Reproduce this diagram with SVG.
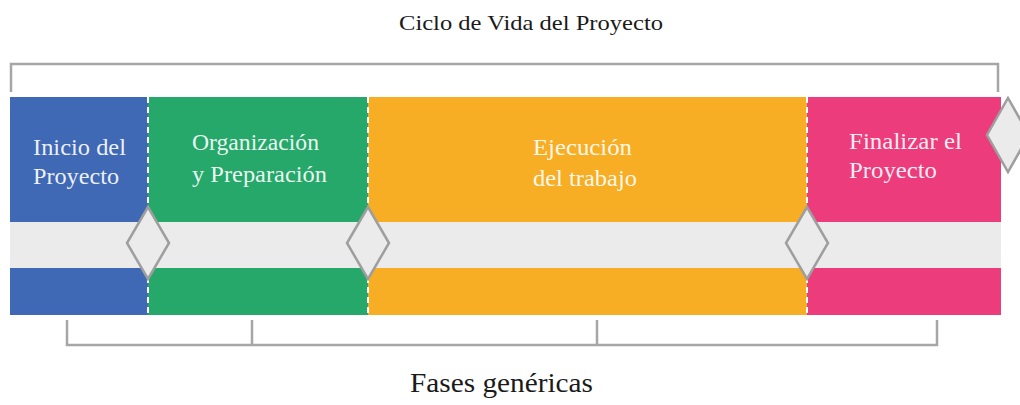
<svg xmlns="http://www.w3.org/2000/svg" width="1020" height="405" viewBox="0 0 1020 405">
<style>
.t{font-family:'Liberation Serif','Times New Roman','DejaVu Serif',serif;fill:#1a1a1a}
.w{font-family:'Liberation Serif','Times New Roman','DejaVu Serif',serif;fill:#fff;fill-opacity:0.92;font-size:23px}
.br{fill:none;stroke:#a6a6a6;stroke-width:2.5}
.dash{stroke:#fff;stroke-width:2;stroke-dasharray:6,4}
.dia{fill:#ebebeb;stroke:#9e9e9e;stroke-width:2.5}
</style>
<rect width="1020" height="405" fill="#fff"/>
<text class="t" x="399" y="30" font-size="22" textLength="264" lengthAdjust="spacingAndGlyphs">Ciclo de Vida del Proyecto</text>
<path class="br" d="M11,92 V64 H998 V92"/>
<g id="inicio">
<rect x="10" y="97" width="138" height="218" fill="#3F68B5"/>
<text class="w" x="33" y="155" textLength="93" lengthAdjust="spacingAndGlyphs">Inicio del</text>
<text class="w" x="33" y="184" textLength="86" lengthAdjust="spacingAndGlyphs">Proyecto</text>
</g>
<g id="organizacion">
<rect x="148" y="97" width="220" height="218" fill="#25A86A"/>
<text class="w" x="192" y="150" textLength="127" lengthAdjust="spacingAndGlyphs">Organización</text>
<text class="w" x="192" y="182" textLength="135" lengthAdjust="spacingAndGlyphs">y Preparación</text>
</g>
<g id="ejecucion">
<rect x="368" y="97" width="439" height="218" fill="#F7AE24"/>
<text class="w" x="533" y="155" textLength="99" lengthAdjust="spacingAndGlyphs">Ejecución</text>
<text class="w" x="533" y="186" textLength="104" lengthAdjust="spacingAndGlyphs">del trabajo</text>
</g>
<g id="finalizar">
<rect x="807" y="97" width="194" height="218" fill="#EC3C7C"/>
<text class="w" x="849" y="149" textLength="113" lengthAdjust="spacingAndGlyphs">Finalizar el</text>
<text class="w" x="849" y="178" textLength="88" lengthAdjust="spacingAndGlyphs">Proyecto</text>
</g>
<rect x="10" y="222" width="991" height="46" fill="#ebebeb"/>
<g id="connectors">
<line class="dash" x1="148" y1="97" x2="148" y2="315"/>
<line class="dash" x1="368" y1="97" x2="368" y2="315"/>
<line class="dash" x1="807" y1="97" x2="807" y2="315"/>
<polygon class="dia" points="148,207 169,243 148,279 127,243"/>
<polygon class="dia" points="368,207 389,243 368,279 347,243"/>
<polygon class="dia" points="807,207 828,243 807,279 786,243"/>
<polygon class="dia" points="1008,98 1029,135 1008,172 987,135"/>
<path class="br" d="M67,320 V345 H937 V320 M252,320 V345 M597,320 V345"/>
</g>
<text class="t" x="410" y="392" font-size="27" textLength="183" lengthAdjust="spacingAndGlyphs">Fases genéricas</text>
</svg>
